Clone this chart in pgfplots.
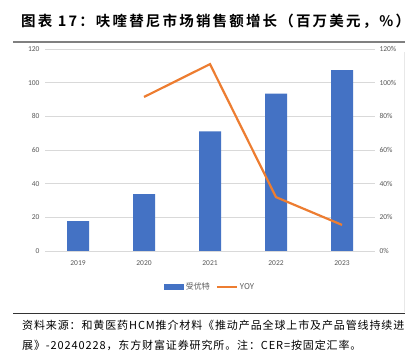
\documentclass[border=0pt]{standalone}
\usepackage{pgfplots}
\pgfplotsset{compat=1.18}
\usepackage{fontspec}
\setmainfont{Carlito}
\newfontfamily\cjk{Noto Sans CJK SC}
\newfontfamily\cjksrc[LetterSpace=8]{Noto Sans CJK SC}
\newfontfamily\cjkb[LetterSpace=15]{Noto Sans CJK SC Bold}
\definecolor{barblue}{HTML}{4472C4}
\definecolor{lineorange}{HTML}{ED7D31}
\definecolor{tickgray}{HTML}{595959}
\definecolor{gridgray}{HTML}{D9D9D9}
\begin{document}
\begin{tikzpicture}
\path[fill=white] (0pt,0pt) rectangle (417pt,352pt);
\draw[gridgray!60, line width=0.6pt] (404pt,40pt) -- (404pt,300pt);
\node[anchor=west, font=\cjkb\fontsize{14.5}{16}\selectfont, inner sep=0pt] at (21pt,331pt) {图表 17：呋喹替尼市场销售额增长（百万美元，\%）};
\draw[gray, line width=1.5pt] (13pt,310pt) -- (405pt,310pt);
\draw[black!80, line width=0.8pt] (13pt,39pt) -- (405pt,39pt);
\node[anchor=west, font=\cjksrc\fontsize{11}{12}\selectfont, inner sep=0pt] at (22pt,27pt) {资料来源：和黄医药HCM推介材料《推动产品全球上市及产品管线持续进};
\node[anchor=west, font=\cjksrc\fontsize{11}{12}\selectfont, inner sep=0pt] at (22pt,7pt) {展》-20240228，东方财富证券研究所。注：CER=按固定汇率。};
\begin{axis}[
  at={(45pt,101pt)}, anchor=south west,
  scale only axis, width=330pt, height=202pt,
  xmin=-0.5, xmax=4.5, ymin=0, ymax=120,
  xtick={0,1,2,3,4}, xticklabels={2019,2020,2021,2022,2023},
  ytick={0,20,...,120},
  axis y line*=left, axis x line*=bottom,
  y axis line style={draw=none},
  x axis line style={draw=gridgray, line width=0.8pt},
  major tick length=0pt,
  ymajorgrids, grid style={gridgray, line width=0.6pt},
  tick label style={font=\fontsize{7.5}{9}\selectfont, text=tickgray},
  /pgf/number format/assume math mode=true,
  xticklabel style={yshift=-6pt},
  yticklabel style={xshift=-2pt},
  legend style={at={(0.5,-0.178)}, anchor=center, draw=none, legend columns=2,
    font=\cjk\fontsize{8}{9}\selectfont, text=tickgray,
    /tikz/every even column/.append style={column sep=4pt}},
  legend image code/.code={\draw[#1, draw=none] (0pt,-3pt) rectangle (20pt,3pt);},
]
\addplot[ybar, bar width=22pt, fill=barblue, draw=none] coordinates {(0,17.8) (1,33.8) (2,71.0) (3,93.5) (4,107.5)};
\addlegendentry{受优特}
\addlegendimage{legend image code/.code={\draw[lineorange, line width=2pt] (0pt,0pt) -- (20pt,0pt);}}
\addlegendentry{YOY}
\end{axis}
\begin{axis}[
  at={(45pt,101pt)}, anchor=south west,
  scale only axis, width=330pt, height=202pt,
  xmin=-0.5, xmax=4.5, ymin=0, ymax=1.2,
  axis y line*=right, axis x line=none,
  y axis line style={draw=none},
  major tick length=0pt,
  ytick={0,0.2,...,1.2},
  yticklabels={0\%,20\%,40\%,60\%,80\%,100\%,120\%},
  tick label style={font=\fontsize{7.5}{9}\selectfont, text=tickgray},
  yticklabel style={xshift=1pt},
]
\addplot[lineorange, line width=2.2pt] coordinates {(1,0.915) (2,1.11) (3,0.32) (4,0.155)};
\end{axis}
\end{tikzpicture}
\end{document}
